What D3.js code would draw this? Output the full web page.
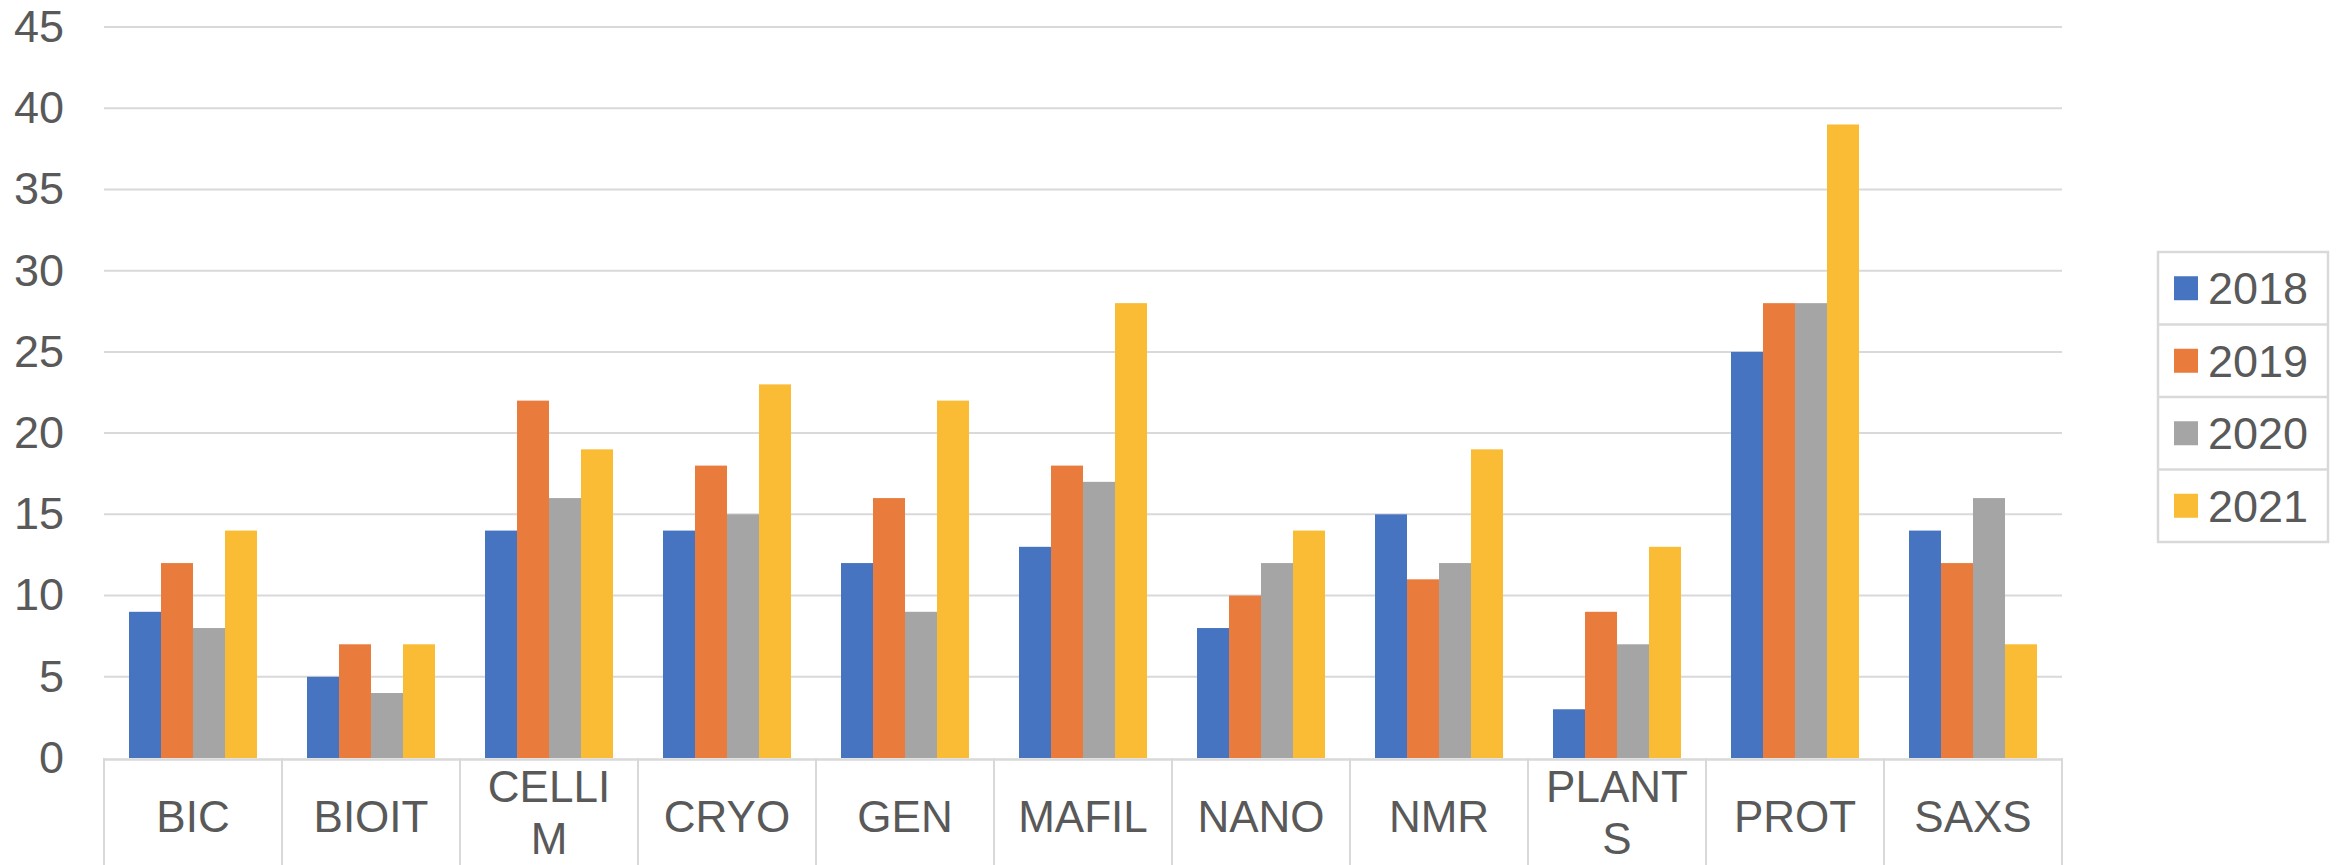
<!DOCTYPE html>
<html>
<head>
<meta charset="utf-8">
<script src="https://cdn.jsdelivr.net/npm/d3@7"></script>
<style>
  html, body { margin: 0; padding: 0; background: #fff; }
  svg { display: block; }
  text { font-family: "Liberation Sans", Arial, sans-serif; fill: #595959; }
</style>
</head>
<body>
<svg id="chart" width="2346" height="865"></svg>
<script>
const categories = ["BIC", "BIOIT", "CELLIM", "CRYO", "GEN", "MAFIL", "NANO", "NMR", "PLANTS", "PROT", "SAXS"];
const categoryLabels = [["BIC"], ["BIOIT"], ["CELLI", "M"], ["CRYO"], ["GEN"], ["MAFIL"], ["NANO"], ["NMR"], ["PLANT", "S"], ["PROT"], ["SAXS"]];
const seriesNames = ["2018", "2019", "2020", "2021"];
const values2018 = [9, 5, 14, 14, 12, 13, 8, 15, 3, 25, 14];
const values2019 = [12, 7, 22, 18, 16, 18, 10, 11, 9, 28, 12];
const values2020 = [8, 4, 16, 15, 9, 17, 12, 12, 7, 28, 16];
const values2021 = [14, 7, 19, 23, 22, 28, 14, 19, 13, 39, 7];
const yTicks = [0, 5, 10, 15, 20, 25, 30, 35, 40, 45];

const seriesValues = [values2018, values2019, values2020, values2021];
const colors = ["#4674C1", "#E97C3D", "#A5A5A5", "#FABC35"];

const svg = d3.select("#chart");
const plotLeft = 104, plotRight = 2062, yTop = 27, yBottom = 758;
const gridColor = "#d9d9d9";

const x0 = d3.scaleBand().domain(categories).range([plotLeft, plotRight]).padding(0);
const step = x0.step();
const x1 = d3.scaleBand().domain(seriesNames).range([25, step - 25]).padding(0);
const y = d3.scaleLinear().domain([0, 45]).range([yBottom, yTop]);
const color = d3.scaleOrdinal().domain(seriesNames).range(colors);

// gridlines
svg.append("g").selectAll("line")
  .data(yTicks.filter(d => d > 0))
  .join("line")
  .attr("x1", plotLeft).attr("x2", plotRight)
  .attr("y1", d => y(d)).attr("y2", d => y(d))
  .attr("stroke", gridColor).attr("stroke-width", 2);

// y axis labels
const yAxis = d3.axisLeft(y).tickValues(yTicks).tickSize(0).tickPadding(0);
const yg = svg.append("g").attr("transform", `translate(64,0)`).call(yAxis);
yg.select(".domain").remove();
yg.selectAll("text")
  .style("font-family", '"Liberation Sans", Arial, sans-serif')
  .style("font-size", "45px")
  .attr("fill", "#595959");

// bars
const groups = svg.append("g").selectAll("g")
  .data(categories)
  .join("g")
  .attr("transform", d => `translate(${x0(d)},0)`);
groups.selectAll("rect")
  .data((c, i) => seriesNames.map((s, j) => ({ s, v: seriesValues[j][i] })))
  .join("rect")
  .attr("x", d => x1(d.s))
  .attr("width", x1.bandwidth())
  .attr("y", d => y(d.v))
  .attr("height", d => y(0) - y(d.v))
  .attr("fill", d => color(d.s));

// x axis line and category boxes
svg.append("line")
  .attr("x1", plotLeft).attr("x2", plotRight)
  .attr("y1", yBottom + 1.5).attr("y2", yBottom + 1.5)
  .attr("stroke", gridColor).attr("stroke-width", 2.5);
const bounds = categories.map(c => x0(c)).concat([plotRight]);
svg.append("g").selectAll("line")
  .data(bounds)
  .join("line")
  .attr("x1", d => d).attr("x2", d => d)
  .attr("y1", yBottom).attr("y2", 865)
  .attr("stroke", gridColor).attr("stroke-width", 2);

// category labels
const labelG = svg.append("g").selectAll("text")
  .data(categories)
  .join("text")
  .attr("text-anchor", "middle")
  .style("font-size", "44px")
  .attr("x", d => x0(d) + step / 2);
labelG.each(function(d, i) {
  const lines = categoryLabels[i];
  const t = d3.select(this);
  const base = lines.length === 1 ? 832 : 802;
  lines.forEach((ln, k) => {
    t.append("tspan").attr("x", x0(d) + step / 2).attr("y", base + k * 52).text(ln);
  });
});

// legend
const legX = 2158, legY = 252, legW = 170, rowH = 72.5;
const leg = svg.append("g");
leg.append("rect")
  .attr("x", legX).attr("y", legY)
  .attr("width", legW).attr("height", rowH * seriesNames.length)
  .attr("fill", "none").attr("stroke", gridColor).attr("stroke-width", 2.5);
seriesNames.forEach((s, i) => {
  const ry = legY + i * rowH;
  if (i > 0) {
    leg.append("line").attr("x1", legX).attr("x2", legX + legW)
      .attr("y1", ry).attr("y2", ry)
      .attr("stroke", gridColor).attr("stroke-width", 2.5);
  }
  leg.append("rect")
    .attr("x", legX + 16).attr("y", ry + rowH / 2 - 12)
    .attr("width", 24).attr("height", 24)
    .attr("fill", color(s));
  leg.append("text")
    .attr("x", legX + 50).attr("y", ry + rowH / 2 + 16)
    .style("font-size", "45px")
    .text(s);
});
</script>
</body>
</html>
